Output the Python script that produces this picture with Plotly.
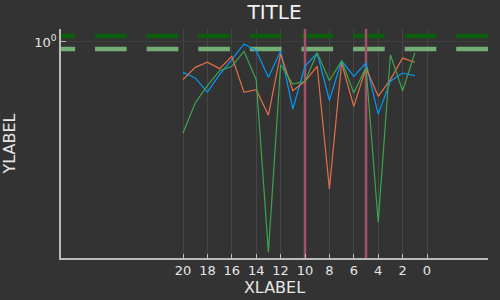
import plotly.graph_objects as go

# ---- data ----
x_vals = list(range(20, 0, -1))
y_blue = [0.792, 0.759, 0.681, 0.778, 0.873, 0.985, 0.935, 0.763, 0.931, 0.598,
          0.830, 0.919, 0.639, 0.866, 0.768, 0.851, 0.575, 0.740, 0.788, 0.772]
y_orange = [0.749, 0.823, 0.856, 0.815, 0.896, 0.680, 0.693, 0.570, 0.912, 0.688,
            0.740, 0.830, 0.324, 0.851, 0.610, 0.819, 0.659, 0.749, 0.884, 0.856]
y_green = [0.497, 0.626, 0.715, 0.802, 0.830, 0.931, 0.749, 0.199, 0.840, 0.724,
           0.740, 0.919, 0.743, 0.866, 0.676, 0.823, 0.251, 0.907, 0.688, 0.919]
hline_values = [1.047, 0.948]
vline_values = [10, 5]
x_tick_vals = [20, 18, 16, 14, 12, 10, 8, 6, 4, 2, 0]
y_tick_vals = [1]
y_tick_text = ["10<sup>0</sup>"]

# ---- style ----
BG = "#333333"
FG = "#e6e6e6"
GRID = "#454545"
x_range = [30, -5]
y_range_log = [-0.72, 0.0433]
hline_start = 31.44
hline_end = -10

fig = go.Figure()

hcolors = ["#0b5e0b", "#74ae74"]
for v, c in zip(hline_values, hcolors):
    fig.add_trace(go.Scatter(x=[hline_start, hline_end], y=[v, v], mode="lines",
                             line=dict(color=c, width=4.6, dash="31.7px,19.9px"),
                             hoverinfo="skip", showlegend=False))

for v in vline_values:
    fig.add_trace(go.Scatter(x=[v, v], y=[10 ** (y_range_log[0] - 0.1), 10 ** (y_range_log[1] + 0.1)],
                             mode="lines", line=dict(color="#a4506c", width=2.5),
                             hoverinfo="skip", showlegend=False))

for ys, c in zip([y_blue, y_orange, y_green], ["#009AFA", "#E36F47", "#3EA44E"]):
    fig.add_trace(go.Scatter(x=x_vals, y=ys, mode="lines",
                             line=dict(color=c, width=1.2), showlegend=False))

fig.update_layout(
    width=500, height=300,
    margin=dict(l=61, r=12, t=29, b=42),
    paper_bgcolor=BG, plot_bgcolor=BG,
    font=dict(family="DejaVu Sans", color=FG, size=13),
    title=dict(text="TITLE", x=0.549, xanchor="center", y=0.96, yanchor="middle",
               font=dict(size=20, color="#f2f2f2")),
    showlegend=False,
)
fig.update_xaxes(range=x_range, tickvals=x_tick_vals, ticks="inside", ticklen=4,
                 tickcolor="#bbbbbb", showgrid=True, gridcolor=GRID, gridwidth=1,
                 showline=True, linecolor="#bbbbbb", linewidth=1.5, zeroline=False,
                 automargin=False,
                 title=dict(text="XLABEL", font=dict(size=16), standoff=4),
                 tickfont=dict(size=13))
fig.update_yaxes(type="log", range=y_range_log, tickvals=y_tick_vals, ticktext=y_tick_text,
                 ticks="inside", ticklen=5, tickcolor="#bbbbbb",
                 showgrid=True, gridcolor="#3e3e3e", gridwidth=1,
                 showline=True, linecolor="#bbbbbb", linewidth=1.5, zeroline=False,
                 automargin=False,
                 title=dict(text="YLABEL", font=dict(size=16), standoff=22),
                 tickfont=dict(size=13))

fig.write_html("out.html")
